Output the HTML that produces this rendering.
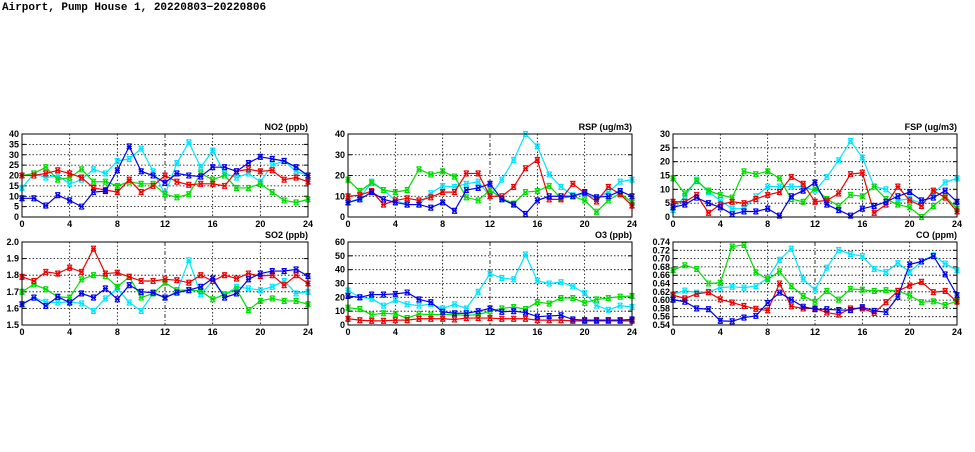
<!DOCTYPE html>
<html><head><meta charset="utf-8"><style>
body{margin:0;background:#fff;width:975px;height:447px;overflow:hidden}
svg text{font-family:"Liberation Sans",sans-serif;font-weight:bold;font-size:9px;fill:#000}
</style></head><body>
<svg id="s" width="975" height="447" xmlns="http://www.w3.org/2000/svg">
<text x="2" y="10" style="font-family:'Liberation Mono',monospace;font-size:11px">Airport, Pump House 1, 20220803−20220806</text>
</svg>
<script>
const S=document.getElementById('s');const NS='http://www.w3.org/2000/svg';
function el(t,a,txt){const e=document.createElementNS(NS,t);for(const k in a)e.setAttribute(k,a[k]);if(txt!==undefined)e.textContent=txt;S.appendChild(e);return e;}
const C={c:'#00e5ff',g:'#00dd00',r:'#ee0000',b:'#0000ee'};
const panels=[
{x0:22,x1:308,y0:134,y1:217,min:0,max:40,step:5,dec:0,label:'NO2 (ppb)',d:{
c:[14,21,19,20,16,18,23,21,27,28,33,22,11,26,36,24,32,21,19,21,17,25,27,22,20],
g:[20,21,24,18,19,23,17,17,15,17,16,16,11,9.5,11,21,18,20,14,14,16,12,8,7,8.5],
r:[20,20,21,22.5,21,19,14,13,12,18,12,15,20,17,15.5,16,16,15,22,23,22,22.5,18,19,17],
b:[9,9,5.5,10.5,8,5,12,12.5,22.5,34,22,20,16.5,21,20,19.5,24,24,22,26,29,28,27,24,20]}},
{x0:22,x1:308,y0:242,y1:325,min:1.5,max:2.0,step:0.1,dec:1,label:'SO2 (ppb)',d:{
c:[1.625,1.665,1.64,1.635,1.64,1.63,1.585,1.66,1.72,1.635,1.585,1.69,1.665,1.70,1.89,1.685,1.765,1.68,1.73,1.72,1.71,1.73,1.765,1.69,1.70],
g:[1.70,1.745,1.715,1.67,1.665,1.775,1.80,1.795,1.73,1.79,1.665,1.69,1.755,1.71,1.71,1.705,1.655,1.685,1.715,1.59,1.645,1.66,1.645,1.645,1.625],
r:[1.79,1.765,1.82,1.81,1.845,1.82,1.96,1.81,1.815,1.79,1.765,1.765,1.775,1.77,1.755,1.80,1.765,1.80,1.78,1.81,1.795,1.80,1.74,1.80,1.75],
b:[1.625,1.665,1.615,1.67,1.635,1.69,1.665,1.72,1.655,1.74,1.70,1.695,1.665,1.695,1.71,1.73,1.78,1.665,1.69,1.775,1.81,1.825,1.825,1.835,1.795]}},
{x0:348,x1:632,y0:134,y1:217,min:0,max:40,step:10,dec:0,label:'RSP (ug/m3)',d:{
c:[7,9,17,13,8,6,6,11.5,15,14.5,16,17,10,18,27.5,40,34,20.5,14.5,10.5,11,9,12,17,18],
g:[18,12.5,16.5,13,12,13,23,20.5,22,19.5,9.5,8,13,9,6.5,12,12.5,15,9,10,8,2.5,8,11.5,7],
r:[10,10.5,12.5,6,8,9,8,9.5,12,12,21,21,10,10,14.5,23.5,27.5,8.5,8.5,16,11.5,7.5,14.5,11,5.5],
b:[7,8.5,12,8.5,7,6,6,4.5,7,3,13,14,16,8.5,6,1.5,8,10,10,10,12,9.5,10,12.5,10]}},
{x0:348,x1:632,y0:242,y1:325,min:0,max:60,step:10,dec:0,label:'O3 (ppb)',d:{
c:[25,20,19,14,18,15,14,15,12,15,12,24,37,34,33,51,32,30,31,28,23,14,11,14,13],
g:[12.5,11.5,7.5,8.5,8,5,8,7.5,7.5,7.5,7,7.5,10,12,13,11.5,16.5,15.5,19.5,19.5,16,18.5,19.5,20.5,21],
r:[4.5,3.5,3,3,3.5,3.5,4.5,4.5,4.5,4,5,5,5,4.5,4.5,4.5,3.5,3.5,3.5,3,3,3,3,3,3],
b:[21,20,22,22,22.5,23.5,18.5,16.5,9.5,8.5,8.5,10,12,9.5,10,9,6,6.5,7,4,3.5,3.5,3.5,3.5,4]}},
{x0:673,x1:957,y0:134,y1:217,min:0,max:30,step:5,dec:0,label:'FSP (ug/m3)',d:{
c:[2.5,7.5,13.5,9,6,3,3,7.5,11,11,11,11,9.5,14.5,20.5,27.5,21.5,11,10,6,6.5,5,8.5,12.5,14],
g:[14,8.5,13,9.5,8,7,16.5,15.5,16.5,14,6.5,5.5,10.5,6.5,4,8,7.5,11,6.5,4.5,3.5,0,4,7.5,3],
r:[5.5,5.5,8,1.5,4.5,5.5,5,6.5,8,9,14.5,12,5.5,6,8.5,15.5,16,1.5,4.5,11,6,4,9.5,7,2],
b:[3.5,4.5,7,5,3.5,1,2,2,3,0.5,7.5,9.5,12.5,4.5,2.5,0.5,3,4,5.5,7.5,9,6,7,9.5,5.5]}},
{x0:673,x1:957,y0:242,y1:325,min:0.54,max:0.74,step:0.02,dec:2,label:'CO (ppm)',d:{
c:[.614,.623,.618,.620,.630,.632,.630,.634,.653,.697,.724,.650,.625,.678,.721,.711,.706,.675,.668,.689,.668,.693,.708,.688,.672],
g:[.672,.684,.675,.64,.642,.729,.733,.667,.65,.669,.634,.61,.596,.622,.601,.627,.625,.622,.624,.622,.611,.595,.597,.588,.598],
r:[.612,.604,.615,.619,.602,.594,.586,.579,.575,.640,.585,.580,.580,.570,.565,.580,.580,.569,.595,.622,.635,.644,.619,.622,.596],
b:[.601,.596,.580,.578,.550,.549,.558,.562,.593,.618,.601,.584,.578,.578,.576,.576,.583,.574,.571,.608,.686,.693,.706,.662,.612]}}
];
for(const p of panels){
 const X=h=>p.x0+(p.x1-p.x0)*h/24, Y=v=>p.y1-(p.y1-p.y0)*(v-p.min)/(p.max-p.min);
 const n=Math.round((p.max-p.min)/p.step);
 for(let i=0;i<=n;i++){const v=p.min+i*p.step,y=Y(v);
  if(i>0&&i<n)el('line',{x1:p.x0,x2:p.x1,y1:y,y2:y,stroke:'#000','stroke-width':0.8,'stroke-dasharray':'1.5,2'});
  el('line',{x1:p.x0,x2:p.x0+4,y1:y,y2:y,stroke:'#000'});el('line',{x1:p.x1-4,x2:p.x1,y1:y,y2:y,stroke:'#000'});
  el('text',{x:p.x0-3,y:y+3,'text-anchor':'end'},v.toFixed(p.dec));}
 for(let h=0;h<=24;h+=4){const x=X(h);
  if(h>0&&h<24)el('line',{x1:x,x2:x,y1:p.y0,y2:p.y1,stroke:'#000','stroke-width':0.8,'stroke-dasharray':h==12?'4,2,1,2':'1.5,2'});
  el('text',{x:x,y:p.y1+10,'text-anchor':'middle'},h);}
 el('text',{x:p.x1,y:p.y0-4,'text-anchor':'end'},p.label);
 for(const k of ['c','g','r','b']){const a=p.d[k];
  el('polyline',{points:a.map((v,i)=>X(i)+','+Y(v)).join(' '),fill:'none',stroke:C[k],'stroke-width':1.2});
  a.forEach((v,i)=>{const x=X(i),y=Y(v);
   el('path',{d:`M${x-2.5},${y-2.5}L${x+2.5},${y+2.5}M${x-2.5},${y+2.5}L${x+2.5},${y-2.5}M${x-2.5},${y}H${x+2.5}M${x-2.5},${y-2.5}H${x+2.5}M${x-2.5},${y+2.5}H${x+2.5}`,stroke:C[k],'stroke-width':1.1,fill:'none'});});}
 el('rect',{x:p.x0,y:p.y0,width:p.x1-p.x0,height:p.y1-p.y0,fill:'none',stroke:'#000','stroke-width':1});
}
</script>
</body></html>
